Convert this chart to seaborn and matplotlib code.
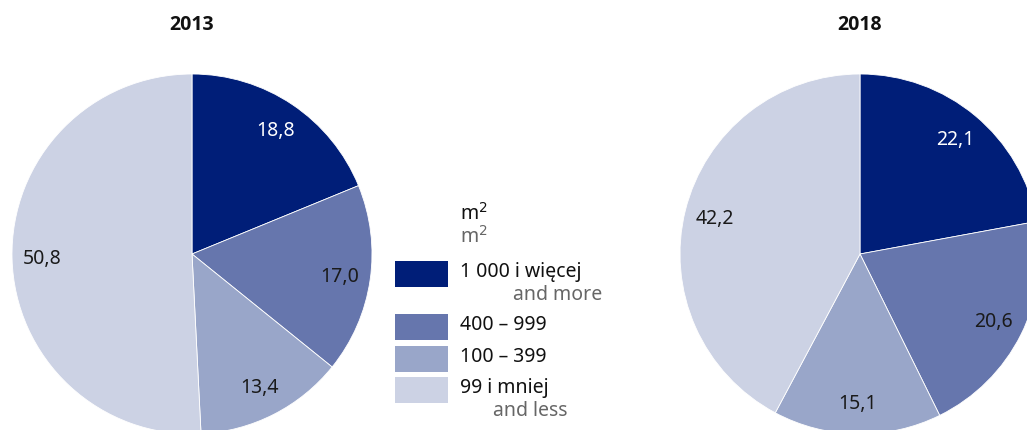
import matplotlib
matplotlib.use("Agg")
import matplotlib.pyplot as plt
import seaborn as sns
from matplotlib.patches import Rectangle

# data
years = ["2013", "2018"]
values_2013 = [18.8, 17.0, 13.4, 50.8]
values_2018 = [22.1, 20.6, 15.1, 42.2]
labels_pl = ["1 000 i więcej", "400 – 999", "100 – 399", "99 i mniej"]
labels_en = ["and more", "", "", "and less"]
colors = ["#001e78", "#6676ad", "#99a6c9", "#ccd2e4"]
label_colors = ["white", "#1a1a1a", "#1a1a1a", "#1a1a1a"]

sns.set_theme(style="white")
plt.rcParams["font.family"] = ["Noto Sans", "DejaVu Sans"]

W, H = 1027, 431
fig = plt.figure(figsize=(W / 100, H / 100), dpi=100)
ax = fig.add_axes([0, 0, 1, 1])

centers = [(192, H - 255), (860, H - 255)]
radius = 180
fs = 14

for year, vals, (cx, cy) in zip(years, [values_2013, values_2018], centers):
    wedges, texts, autotexts = ax.pie(
        vals, colors=colors, startangle=90, counterclock=False,
        center=(cx, cy), radius=radius, frame=True,
        autopct=lambda p: f"{p:.1f}".replace(".", ","), pctdistance=0.83,
        wedgeprops=dict(edgecolor="white", linewidth=0.6),
        textprops=dict(fontsize=fs),
    )
    for t, c in zip(autotexts, label_colors):
        t.set_color(c)
    ax.text(cx, H - 25, year, ha="center", va="center", family=["Open Sans"],
            fontsize=14, fontweight="bold", color="#111111")

ax.set_xlim(0, W)
ax.set_ylim(0, H)
ax.set_aspect("equal")
ax.axis("off")

# legend
ax.text(460, H - 214, "m$^2$", ha="left", va="center", fontsize=fs, color="#111111")
ax.text(460, H - 237, "m$^2$", ha="left", va="center", fontsize=fs, color="#666666")
box_y = [262, 315, 347, 378]
en_x = [513, 0, 0, 493]
for y, c, pl, en, ex in zip(box_y, colors, labels_pl, labels_en, en_x):
    ax.add_patch(Rectangle((395, H - y - 26), 53, 26, facecolor=c, edgecolor="none"))
    ax.text(460, H - y - 10, pl, ha="left", va="center", fontsize=fs, color="#111111")
    if en:
        ax.text(ex, H - y - 33, en, ha="left", va="center", fontsize=fs, color="#666666")

fig.savefig("out.png", dpi=100)
